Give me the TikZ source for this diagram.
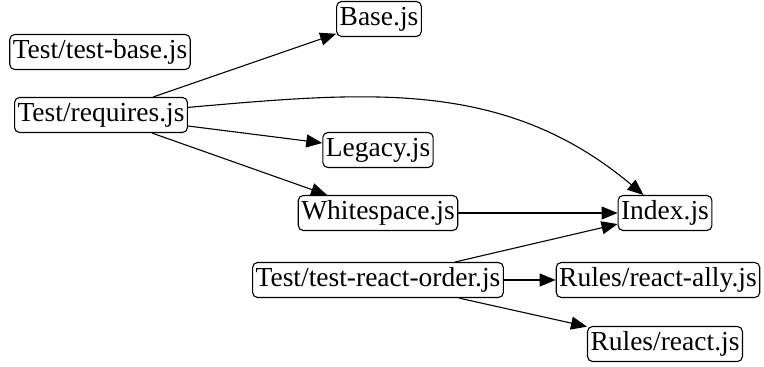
\documentclass[tikz,border=0pt]{standalone}
\usepackage{fontspec}
\setmainfont{Liberation Serif}
\usetikzlibrary{arrows.meta}

\begin{document}
\begin{tikzpicture}[x=1pt, y=-1pt, font=\fontsize{27.5}{29}\selectfont,
    file/.style={draw, line width=1.1pt, rounded corners=5pt, inner xsep=3pt,
                 inner ysep=0pt, minimum height=35pt},
    dep/.style={line width=1.1pt, -{Triangle[length=16pt, width=13pt]}}]
  \useasboundingbox (0,0) rectangle (764,367);
  % moduli
  \node[file] (base)    at (379,19)  {Base.js};
  \node[file] (testbase) at (100,52) {Test/test-base.js};
  \node[file] (req)     at (101,115) {Test/requires.js};
  \node[file] (legacy)  at (378,150) {Legacy.js};
  \node[file] (ws)      at (378,213) {Whitespace.js};
  \node[file] (idx)     at (665,213) {Index.js};
  \node[file] (order)   at (378,280) {Test/test-react-order.js};
  \node[file] (ally)    at (658,280) {Rules/react-ally.js};
  \node[file] (react)   at (665,344) {Rules/react.js};
  % dipendenze
  \draw[dep] (req) -- (base);
  \draw[dep] (req) to[out=5, in=140] (idx);
  \draw[dep] (req) -- (legacy);
  \draw[dep] (req) -- (ws);
  \draw[dep] (ws) -- (idx);
  \draw[dep] (order) -- (idx);
  \draw[dep] (order) -- (ally);
  \draw[dep] (order) -- (react);
\end{tikzpicture}
\end{document}
